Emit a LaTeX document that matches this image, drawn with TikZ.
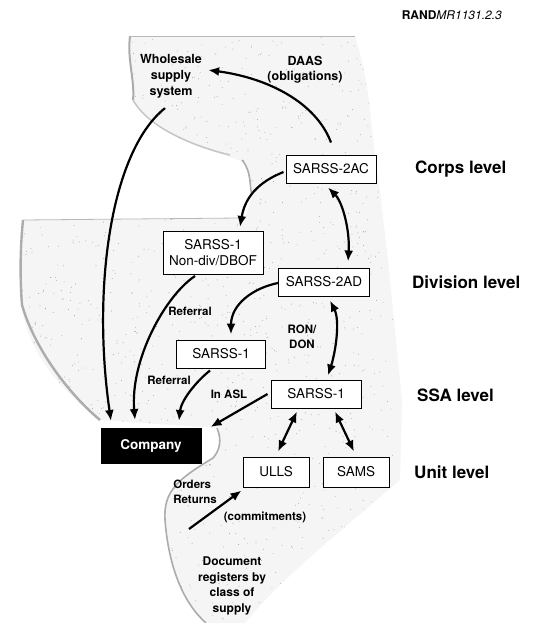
\documentclass[tikz,border=0pt]{standalone}
\usepackage{fontspec}
\setmainfont{TeX Gyre Heros}
\usetikzlibrary{arrows.meta, calc}

\def\stipplearea{(130,36) -- (355,36) .. controls (372,90) and (370,130) .. (378,175) -- (388,260) -- (402,400) -- (400,480)
  .. controls (330,540) and (280,580) .. (245,623) -- (206,623) .. controls (180,600) and (168,560) .. (165,520)
  .. controls (163,490) and (180,478) .. (213,458) .. controls (222,445) and (220,435) .. (217,428) -- (100,420)
  .. controls (60,390) and (25,350) .. (21,300) -- (23,220) -- (245,218) .. controls (253,200) and (252,180) .. (244,162)
  .. controls (210,150) and (160,135) .. (133,100) -- cycle}

\begin{document}
\begin{tikzpicture}[x=1pt, y=-1pt,
    box/.style={draw, line width=1pt, fill=white, inner sep=0pt, align=center, font=\fontsize{13.5}{16}\selectfont},
    lbl/.style={font=\bfseries\fontsize{11.5}{15}\selectfont, align=center, inner sep=0pt},
    lvl/.style={font=\bfseries\fontsize{17}{20}\selectfont, anchor=west, inner sep=0pt},
    arr/.style={line width=2.2pt, -{Latex[length=11pt,width=9pt]}},
    darr/.style={line width=2.2pt, {Latex[length=11pt,width=9pt]}-{Latex[length=11pt,width=9pt]}},
    rim/.style={gray!65, line width=1.6pt}]
\useasboundingbox (0,0) rectangle (552,623);

% stippled areas
\fill[gray!8] \stipplearea;
\begin{scope}
\clip \stipplearea;
\pgfmathsetseed{11}
\foreach \i in {1,...,1600}
    \fill[gray!75] ({405*rnd},{623*rnd}) circle (0.45pt);
\end{scope}
\draw[rim, line width=2pt] (130,36) .. controls (127,60) and (135,80) .. (133,100);
\draw[rim, gray!45] (133,100) .. controls (150,130) and (200,148) .. (230,155);
\draw[rim] (242,160) .. controls (252,172) and (249,185) .. (252,195);
\draw[gray!55, line width=0.8pt] (130,36) -- (355,36);
\draw[gray!55, line width=0.8pt] (23,220) -- (240,218);
\draw[rim, line width=2.4pt] (23,220) .. controls (20,250) and (20,280) .. (22,305) .. controls (35,350) and (70,395) .. (100,420);
\draw[rim] (217,428) .. controls (222,440) and (220,450) .. (213,458) .. controls (180,478) and (163,490) .. (165,520)
  .. controls (168,560) and (180,600) .. (206,623);

% nodes
\node[anchor=east, inner sep=0pt, font=\fontsize{12}{14}\selectfont] (rand) at (502,15) {\textbf{RAND}\textit{MR1131.2.3}};
\node[lbl, font=\bfseries\fontsize{12.5}{16}\selectfont] (wss) at (171,76) {Wholesale\\supply\\system};
\node[lbl, font=\bfseries\fontsize{12.5}{15}\selectfont] (daas) at (305,70) {DAAS\\(obligations)};
\node[box, minimum width=90pt, minimum height=28pt] (c2ac) at (331,169) {SARSS-2AC};
\node[box, minimum width=100pt, minimum height=43pt] (nd) at (213,253) {SARSS-1\\Non-div/DBOF};
\node[box, minimum width=91pt, minimum height=28pt] (c2ad) at (324,282) {SARSS-2AD};
\node[box, minimum width=89pt, minimum height=28pt] (s1) at (221,354) {SARSS-1};
\node[box, minimum width=90pt, minimum height=28pt] (ssa) at (316,394) {SARSS-1};
\node[box, fill=black, text=white, font=\bfseries\fontsize{13.5}{16}\selectfont, minimum width=100pt, minimum height=35pt] (comp) at (151,446) {Company};
\node[box, minimum width=66pt, minimum height=30pt] (ulls) at (276,472) {ULLS};
\node[box, minimum width=66pt, minimum height=30pt] (sams) at (356,472) {SAMS};
\node[lvl] (corps) at (415,169) {Corps level};
\node[lvl] (div) at (412,282) {Division level};
\node[lvl] (ssalvl) at (417,395) {SSA level};
\node[lvl] (unit) at (414,472) {Unit level};
\node[lbl] (ref1) at (190,311) {Referral};
\node[lbl] (rondon) at (302,337) {RON/\\DON};
\node[lbl] (ref2) at (169,380) {Referral};
\node[lbl] (inasl) at (229,394) {In ASL};
\node[lbl, align=left] (ordret) at (195,492) {Orders\\Returns};
\node[lbl] (commit) at (265,517) {(commitments)};
\node[lbl, font=\bfseries\fontsize{12}{15.5}\selectfont] (docreg) at (232,586) {Document\\registers by\\class of\\supply};
\coordinate (docin) at (189,529);

% connectors
\draw[arr] ($(c2ac.north)+(0,-12)$) .. controls +(-15,-40) and +(60,8) .. ($(wss.east)+(6,-6)$);
\draw[arr] ($(wss.south)+(-6,10)$) .. controls +(-55,44) and +(-19,-131) .. ($(comp.north)+(-40,-7)$);
\draw[arr] ($(c2ac.west)+(-2,3)$) .. controls +(-25,10) and +(5,-30) .. ($(nd.north)+(27,-4)$);
\draw[darr] ($(c2ac.south)+(-3,4)$) .. controls +(15,15) and +(2,-30) .. ($(c2ad.north)+(24,-6)$);
\draw[arr] ($(nd.south)+(-18,1)$) .. controls +(-30,20) and +(-5,-60) .. ($(comp.north)+(-16,-8)$);
\draw[arr] ($(c2ad.west)+(0,1)$) .. controls +(-25,5) and +(0,-30) .. ($(s1.north)+(10,-5)$);
\draw[darr] ($(c2ad.south)+(6,4)$) .. controls +(10,20) and +(8,-25) .. ($(ssa.north)+(12,-4)$);
\draw[arr] ($(s1.south)+(-11,2)$) .. controls +(-15,12) and +(2,-20) .. ($(comp.north)+(28,-7)$);
\draw[arr] ($(ssa.west)+(-3,0)$) -- ($(comp.north east)+(9,-1)$);
\draw[darr] ($(ssa.south)+(-19,3)$) -- ($(ulls.north)+(2,-5)$);
\draw[darr] ($(ssa.south)+(19,3)$) -- ($(sams.north)+(-2,-5)$);
\draw[arr] (docin) -- ($(ulls.south west)+(-1,3)$);
\end{tikzpicture}
\end{document}
